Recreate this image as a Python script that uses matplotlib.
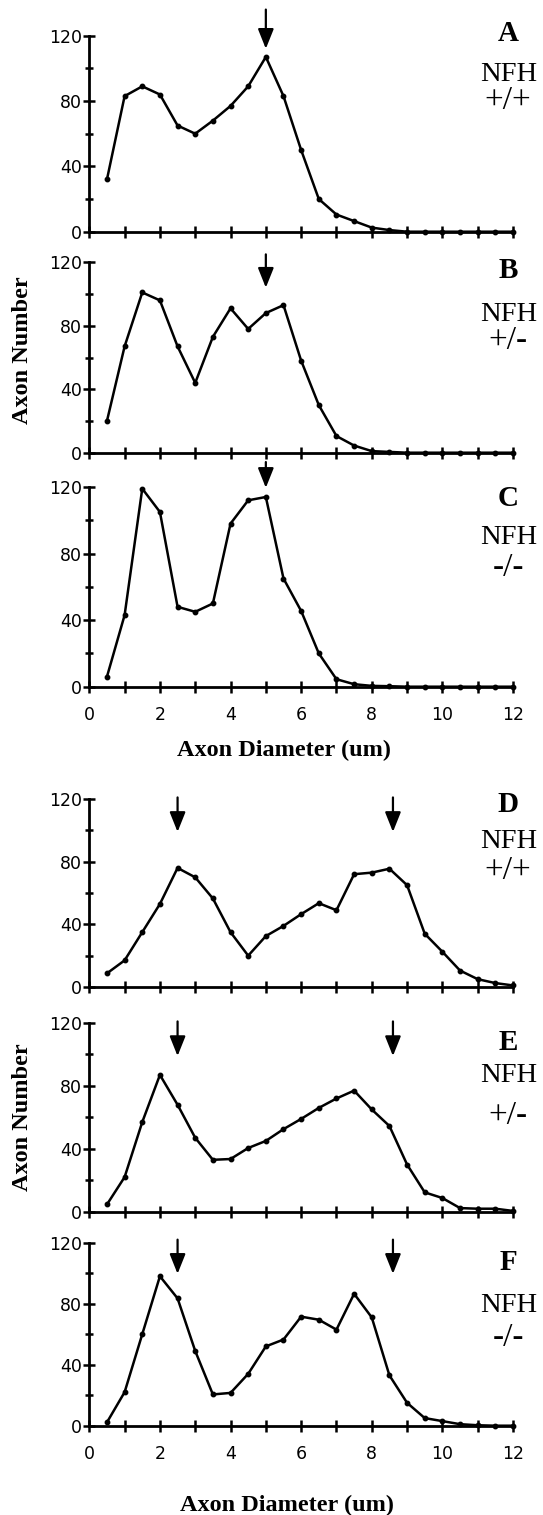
import matplotlib
matplotlib.use("Agg")
import matplotlib.pyplot as plt

# diametro assone (um), classi da 0.5 um
diametro = [0.5, 1.0, 1.5, 2.0, 2.5, 3.0, 3.5, 4.0, 4.5, 5.0, 5.5, 6.0,
            6.5, 7.0, 7.5, 8.0, 8.5, 9.0, 9.5, 10.0, 10.5, 11.0, 11.5, 12.0]

# numero di assoni per ogni pannello
num_A = [32, 83, 89, 84, 65, 60, 68, 77, 89, 107, 83, 50,
         20, 10.5, 6.5, 2.5, 1, 0, 0, 0, 0, 0, 0, 0]
num_B = [20, 67, 101, 96, 67, 44, 73, 91, 78, 88, 93, 58,
         30, 10.5, 4.5, 1, 0.5, 0, 0, 0, 0, 0, 0, 0]
num_C = [6, 43, 119, 105, 48, 45, 50, 98, 112, 114, 65, 45.5,
         20, 4.5, 1.5, 0.5, 0.3, 0, 0, 0, 0, 0, 0, 0]
num_D = [8.7, 17, 35, 53, 76, 70, 56.5, 35, 20, 32.5, 39, 46.5,
         53.5, 49, 72, 73, 75.5, 65, 34, 22.5, 10.5, 5, 2.5, 1]
num_E = [4.6, 22, 57, 87, 68, 47, 33, 33.5, 40.5, 45, 52.5, 59,
         66, 72, 77, 65, 54.5, 30, 12.3, 8.7, 2.3, 1.9, 1.9, 0.5]
num_F = [2.2, 22, 60, 98, 83.5, 49, 20.5, 21.5, 34, 52, 56.5, 71.5,
         69.5, 63, 86.5, 71, 33, 15, 5, 3, 1, 0.3, 0, 0]

lettere = ['A', 'B', 'C', 'D', 'E', 'F']
genotipi = ['+/+', '+/-', '-/-', '+/+', '+/-', '-/-']
serie = [num_A, num_B, num_C, num_D, num_E, num_F]

# frecce: posizione x, inizio e punta (in unita' di asse y)
frecce_x = [[5.0], [5.0], [5.0], [2.5, 8.6], [2.5, 8.6], [2.5, 8.6]]
frecce_top = [136, 125, 135, 121, 121, 122]
frecce_tip = [112, 104, 119.5, 99, 99, 99.6]

yticks = [0, 40, 80, 120]
ytick_labels = ['0', '40', '80', '120']
xticks = [0, 1, 2, 3, 4, 5, 6, 7, 8, 9, 10, 11, 12]
xtick_labels = ['0', '', '2', '', '4', '', '6', '', '8', '', '10', '', '12']

# layout in pixel (y dall'alto): asse 0 e asse 120 per ogni pannello
W, H = 543, 1515
y_zero = [231.7, 452.7, 686.7, 987, 1211.7, 1425.7]
y_top = [35.7, 262.3, 487, 799, 1023, 1242.7]
x_left, x_right = 89.3, 513
pos_lettera = [30.5, 268, 495, 801.7, 1040, 1259]
pos_nfh = [71.7, 311.7, 535, 838, 1073, 1303]
pos_gen = [100, 340, 566.7, 870, 1115, 1337]

serif = 'Liberation Serif'
sans = 'DejaVu Sans'

fig = plt.figure(figsize=(W / 100, H / 100), dpi=100)

for i in range(6):
    ax = fig.add_axes([x_left / W, 1 - y_zero[i] / H,
                       (x_right - x_left) / W, (y_zero[i] - y_top[i]) / H])
    ax.plot(diametro, serie[i], color='black', lw=1.8, marker='o', ms=3.2,
            clip_on=False, zorder=3)
    ax.set_xlim(0, 12)
    ax.set_ylim(0, 120)
    for s in ['top', 'right']:
        ax.spines[s].set_visible(False)
    for s in ['left', 'bottom']:
        ax.spines[s].set_linewidth(2)
    ax.set_yticks(yticks)
    ax.set_yticks([20, 60, 100], minor=True)
    ax.set_xticks(xticks)
    ax.tick_params(axis='both', which='both', direction='inout', width=1.8, length=8)
    ax.tick_params(axis='y', which='minor', length=6)
    ax.tick_params(axis='y', pad=1.5)
    ax.tick_params(axis='x', pad=10)
    ax.set_yticklabels(ytick_labels, fontsize=12.5, family=sans)
    if i in (2, 5):
        ax.set_xticklabels(xtick_labels, fontsize=12.5, family=sans)
    else:
        ax.set_xticklabels([])

    for xf in frecce_x[i]:
        ax.annotate('', xy=(xf, frecce_tip[i]), xytext=(xf, frecce_top[i]),
                    arrowprops=dict(arrowstyle='-|>,head_length=0.6,head_width=0.24',
                                    color='black', lw=1.6, mutation_scale=20,
                                    shrinkA=0, shrinkB=0),
                    annotation_clip=False)

    fig.text(508 / W, 1 - (pos_lettera[i] + 3) / H, lettere[i], family=serif,
             fontweight='bold', fontsize=21, ha='center', va='center')
    fig.text(509 / W, 1 - (pos_nfh[i] + 3) / H, 'NFH', family=serif,
             fontsize=20.5, ha='center', va='center')
    fig.text(508 / W, 1 - (pos_gen[i] + 1) / H, genotipi[i], family=serif,
             fontsize=24, ha='center', va='center')

# etichette degli assi
for yc in [350, 1117]:
    fig.text(23 / W, 1 - yc / H, 'Axon Number', family=serif, fontweight='bold',
             fontsize=17.5, rotation=90, ha='center', va='center')
for xc, yc in [(284, 750), (287, 1505)]:
    fig.text(xc / W, 1 - yc / H, 'Axon Diameter (um)', family=serif,
             fontweight='bold', fontsize=17.5, ha='center', va='center')

fig.savefig('out.png', dpi=100)
